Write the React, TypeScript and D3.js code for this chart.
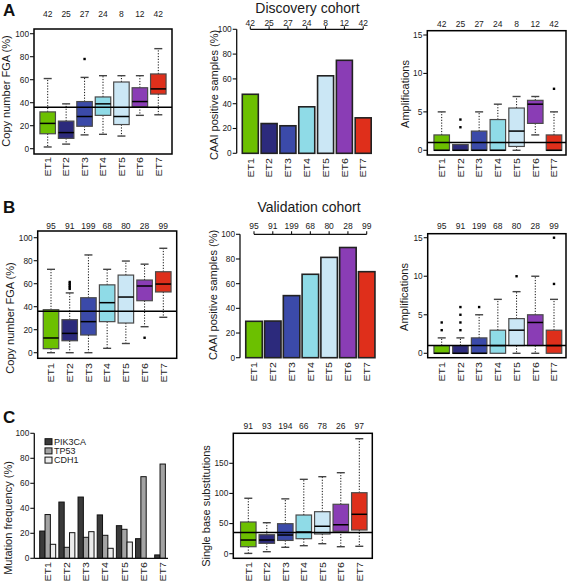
import React from "react";
import * as d3 from "d3";

const categories = ["ET1", "ET2", "ET3", "ET4", "ET5", "ET6", "ET7"];
const etColors = ["#6cc000", "#2c2a7c", "#3b4aa9", "#8fdbe7", "#cbe7f5", "#8a3db5", "#df2f1b"];

const discN = [42, 25, 27, 24, 8, 12, 42];
const valN = [95, 91, 199, 68, 80, 28, 99];
const sbsN = [91, 93, 194, 66, 78, 26, 97];

// [low whisker, Q1, median, Q3, high whisker]
const fgaDiscStats = [
  [1.5, 13, 22, 32, 61],
  [4, 9, 14, 24, 39],
  [12, 19.5, 28, 41, 62],
  [12.5, 29, 39, 45, 63.5],
  [11, 21, 28, 58, 63.5],
  [29, 36.5, 41, 53, 63.5],
  [29.5, 47.5, 52, 65, 87],
];
const fgaDiscOutliers = [[], [], [78], [], [], [], []];
const fgaRef = 36;

const caaiDisc = [47.6, 24, 22.2, 37.5, 62.5, 75, 28.6];

const ampDiscStats = [
  [0, 0, 0, 2, 5],
  [0, 0, 0, 0.75, 0.75],
  [0, 0, 0, 2.5, 5],
  [0, 0, 0, 4, 6],
  [0, 0.5, 2.5, 5.5, 7],
  [2, 3.5, 6, 6.5, 7],
  [0, 0, 0, 2, 5],
];
const ampDiscOutliers = [[], [3, 4], [], [], [], [], [8]];
const ampRef = 1;

const fgaValStats = [
  [0, 3.5, 12.8, 37.4, 72.5],
  [0, 10.4, 16.8, 28.7, 52],
  [0, 15.4, 27, 47.8, 85],
  [3.8, 27, 43.5, 59, 72.5],
  [8, 25.8, 48.4, 67.5, 79.7],
  [22.6, 45.2, 58, 63.2, 77],
  [30.8, 52.8, 59.7, 70.4, 90.8],
];
const fgaValOutliers = [[], [55.5, 57, 58.5, 60, 61.5], [], [], [], [13], []];

const caaiVal = [29.5, 29.7, 50.3, 67.6, 81.3, 89.3, 69.7];

const ampValStats = [
  [0, 0, 0, 1, 2],
  [0, 0, 0, 1, 2],
  [0, 0, 0, 2, 5],
  [0, 0, 1, 3, 7],
  [0, 1, 3, 4.5, 8],
  [0, 1, 4, 5, 10],
  [0, 0, 1, 3, 7],
];
const ampValOutliers = [[3, 4], [3, 4, 5, 6], [6], [], [10], [], [9, 15]];

const genes = ["PIK3CA", "TP53", "CDH1"];
const geneColors = ["#3a3a3a", "#a3a3a3", "#ececec"];
const pik3ca = [21.8, 45, 49, 34.7, 26.1, 15.7, 2.7];
const tp53 = [35, 8.8, 16.8, 18.4, 23.2, 65.3, 75.4];
const cdh1 = [11.2, 20.5, 21.3, 8, 13, 0, 0];

const sbsStats = [
  [0.5, 11.6, 22.7, 52.6, 92],
  [3.3, 17.2, 22.7, 31.5, 51.4],
  [10.6, 22, 31, 49.8, 91],
  [13.3, 24.9, 36, 64.2, 123.4],
  [16.6, 32.7, 45.5, 69.7, 127.8],
  [11.6, 37.2, 48, 82, 134.4],
  [12.3, 39.3, 65.4, 101.2, 190.8],
];
const sbsOutliers = [[], [], [], [], [], [], []];
const sbsRef = 35;

const FONT = "Liberation Sans, Arial, Helvetica, sans-serif";
const TXT = "#1a1a1a";

function EtLabels({ x, top }: { x: (c: string) => number; top: number }) {
  return (
    <g>
      {categories.map((c) => (
        <text
          key={c}
          transform={`translate(${x(c)},${top}) rotate(-90) scale(1.12,1)`}
          textAnchor="end"
          dominantBaseline="central"
          fontSize={9.5}
          fontFamily={FONT}
          fill={TXT}
        >
          {c}
        </text>
      ))}
    </g>
  );
}

function YTitle({ x, y, text }: { x: number; y: number; text: string }) {
  return (
    <text
      transform={`translate(${x},${y}) rotate(-90)`}
      textAnchor="middle"
      fontSize={11}
      fontFamily={FONT}
      fill={TXT}
    >
      {text}
    </text>
  );
}

function YAxis({ y, x, ticks, top, bottom }: { y: d3.ScaleLinear<number, number>; x: number; ticks: number[]; top: number; bottom: number }) {
  return (
    <g>
      <line x1={x} x2={x} y1={top} y2={bottom} stroke="#111" strokeWidth={1.3} />
      {ticks.map((t) => (
        <g key={t}>
          <line x1={x - 4} x2={x} y1={y(t)} y2={y(t)} stroke="#111" strokeWidth={1.1} />
          <text x={x - 5} y={y(t)} dy="0.35em" textAnchor="end" fontSize={8.3} fontFamily={FONT} fill={TXT}>
            {t}
          </text>
        </g>
      ))}
    </g>
  );
}

type BoxProps = {
  stats: number[][];
  outliers: number[][];
  ns: number[];
  refValue: number;
  frame: { l: number; r: number; t: number; b: number };
  yDomain: [number, number];
  yRange: [number, number];
  xRange: [number, number];
  ticks: number[];
  title: string;
  titlePos: [number, number];
  nY: number;
  labelY: number;
};

function BoxPanel(p: BoxProps) {
  const y = d3.scaleLinear().domain(p.yDomain).range(p.yRange);
  const x = d3.scalePoint<string>().domain(categories).range(p.xRange);
  const bw = 15.5;
  const cw = 8;
  const f = p.frame;
  return (
    <g>
      {categories.map((c, i) => {
        const [lo, q1, med, q3, hi] = p.stats[i];
        const cx = x(c) as number;
        return (
          <g key={c}>
            {hi > q3 && (
              <>
                <line x1={cx} x2={cx} y1={y(q3)} y2={y(hi)} stroke="#111" strokeWidth={1} strokeDasharray="1.2,1.6" />
                <line x1={cx - cw / 2} x2={cx + cw / 2} y1={y(hi)} y2={y(hi)} stroke="#444" strokeWidth={1.4} />
              </>
            )}
            {lo < q1 && (
              <>
                <line x1={cx} x2={cx} y1={y(q1)} y2={y(lo)} stroke="#111" strokeWidth={1} strokeDasharray="1.2,1.6" />
                <line x1={cx - cw / 2} x2={cx + cw / 2} y1={y(lo)} y2={y(lo)} stroke="#444" strokeWidth={1.4} />
              </>
            )}
            <rect x={cx - bw / 2} y={y(q3)} width={bw} height={Math.max(0, y(q1) - y(q3))} fill={etColors[i]} stroke="#4a4a4a" strokeWidth={1.2} />
            <line x1={cx - bw / 2} x2={cx + bw / 2} y1={y(med)} y2={y(med)} stroke="#000" strokeWidth={1.5} />
            {p.outliers[i].map((o, k) => (
              <rect key={k} x={cx - 1.2} y={y(o) - 1.2} width={2.4} height={2.4} fill="#000" />
            ))}
            <text x={cx} y={p.nY} textAnchor="middle" fontSize={8.5} fontFamily={FONT} fill={TXT}>
              {p.ns[i]}
            </text>
          </g>
        );
      })}
      <line x1={f.l} x2={f.r} y1={y(p.refValue)} y2={y(p.refValue)} stroke="#000" strokeWidth={1.5} />
      <rect x={f.l} y={f.t} width={f.r - f.l} height={f.b - f.t} fill="none" stroke="#000" strokeWidth={1.5} />
      {p.ticks.map((t) => (
        <g key={t}>
          <line x1={f.l - 4} x2={f.l} y1={y(t)} y2={y(t)} stroke="#111" strokeWidth={1.1} />
          <text x={f.l - 5} y={y(t)} dy="0.35em" textAnchor="end" fontSize={8.3} fontFamily={FONT} fill={TXT}>
            {t}
          </text>
        </g>
      ))}
      <EtLabels x={(c) => x(c) as number} top={p.labelY} />
      <YTitle x={p.titlePos[0]} y={p.titlePos[1]} text={p.title} />
    </g>
  );
}

type BarProps = {
  values: number[];
  ns: number[];
  axisX: number;
  yRange: [number, number];
  xRange: [number, number];
  barW: number;
  nY: number;
  labelY: number;
  titlePos: [number, number];
};

function BarPanel(p: BarProps) {
  const y = d3.scaleLinear().domain([0, 100]).range(p.yRange);
  const x = d3.scalePoint<string>().domain(categories).range(p.xRange);
  const bracketY = y(100);
  return (
    <g>
      {categories.map((c, i) => {
        const cx = x(c) as number;
        return (
          <g key={c}>
            <rect x={cx - p.barW / 2} y={y(p.values[i])} width={p.barW} height={y(0) - y(p.values[i])} fill={etColors[i]} stroke="#222" strokeWidth={1.6} />
            <line x1={cx} x2={cx} y1={bracketY} y2={bracketY - 3} stroke="#111" strokeWidth={1.1} />
            <text x={cx} y={p.nY} textAnchor="middle" fontSize={8.5} fontFamily={FONT} fill={TXT}>
              {p.ns[i]}
            </text>
          </g>
        );
      })}
      <line x1={p.xRange[0]} x2={p.xRange[1]} y1={bracketY} y2={bracketY} stroke="#111" strokeWidth={1.3} />
      <YAxis y={y} x={p.axisX} ticks={[0, 20, 40, 60, 80, 100]} top={y(100)} bottom={y(0)} />
      <EtLabels x={(c) => x(c) as number} top={p.labelY} />
      <YTitle x={p.titlePos[0]} y={p.titlePos[1]} text="CAAI positive samples (%)" />
    </g>
  );
}

function MutationPanel() {
  const y = d3.scaleLinear().domain([0, 100]).range([558.3, 433.3]);
  const x = d3.scalePoint<string>().domain(categories).range([47.7, 162.7]);
  const inner = d3.scaleBand<string>().domain(genes).range([-8, 8]).padding(0);
  const series = [pik3ca, tp53, cdh1];
  return (
    <g>
      {categories.map((c, i) => (
        <g key={c} transform={`translate(${x(c)},0)`}>
          {series.map((s, g) => (
            <rect
              key={g}
              x={inner(genes[g]) as number}
              y={y(s[i])}
              width={inner.bandwidth()}
              height={y(0) - y(s[i])}
              fill={geneColors[g]}
              stroke="#111"
              strokeWidth={1}
            />
          ))}
        </g>
      ))}
      <line x1={34.3} x2={168} y1={y(0)} y2={y(0)} stroke="#111" strokeWidth={1.3} />
      <YAxis y={y} x={34.3} ticks={[0, 20, 40, 60, 80, 100]} top={y(100)} bottom={y(0)} />
      {genes.map((g, k) => (
        <g key={g} transform={`translate(45,${441.7 + k * 9.2})`}>
          <rect x={0} y={-3} width={7} height={6} fill={geneColors[k]} stroke="#111" strokeWidth={1} />
          <text x={9} y={0} dy="0.35em" fontSize={9} fontFamily={FONT} fill={TXT}>
            {g}
          </text>
        </g>
      ))}
      <EtLabels x={(c) => x(c) as number} top={562} />
      <YTitle x={12} y={518} text="Mutation frequency (%)" />
    </g>
  );
}

export default function App() {
  return (
    <svg width={567} height={583} style={{ position: "absolute", left: 0, top: 0, background: "#fff" }}>
      <rect width={567} height={583} fill="#fff" />
      <text x={3} y={15.5} fontSize={17} fontWeight="bold" fontFamily={FONT} fill="#111">A</text>
      <text x={3} y={213} fontSize={17} fontWeight="bold" fontFamily={FONT} fill="#111">B</text>
      <text x={3} y={423} fontSize={17} fontWeight="bold" fontFamily={FONT} fill="#111">C</text>
      <text x={307.5} y={12.5} textAnchor="middle" fontSize={14} fontFamily={FONT} fill={TXT}>Discovery cohort</text>
      <text x={309} y={212} textAnchor="middle" fontSize={14} fontFamily={FONT} fill={TXT}>Validation cohort</text>

      <BoxPanel
        stats={fgaDiscStats}
        outliers={fgaDiscOutliers}
        ns={discN}
        refValue={fgaRef}
        frame={{ l: 34, r: 172, t: 29, b: 154 }}
        yDomain={[0, 100]}
        yRange={[148.7, 33.7]}
        xRange={[47.7, 158.3]}
        ticks={[0, 20, 40, 60, 80, 100]}
        title="Copy number FGA (%)"
        titlePos={[10, 91]}
        nY={17}
        labelY={157}
      />
      <BarPanel values={caaiDisc} ns={discN} axisX={236.7} yRange={[153.3, 29.3]} xRange={[250.3, 363.2]} barW={16} nY={26} labelY={158} titlePos={[218, 95]} />
      <BoxPanel
        stats={ampDiscStats}
        outliers={ampDiscOutliers}
        ns={discN}
        refValue={ampRef}
        frame={{ l: 427.3, r: 566, t: 30.7, b: 155 }}
        yDomain={[0, 15]}
        yRange={[150.3, 35]}
        xRange={[441.7, 554]}
        ticks={[0, 5, 10, 15]}
        title="Amplifications"
        titlePos={[409, 94]}
        nY={27}
        labelY={158}
      />

      <BoxPanel
        stats={fgaValStats}
        outliers={fgaValOutliers}
        ns={valN}
        refValue={fgaRef}
        frame={{ l: 37.7, r: 176.7, t: 231, b: 358.3 }}
        yDomain={[0, 100]}
        yRange={[352.7, 237.7]}
        xRange={[51, 163.3]}
        ticks={[0, 20, 40, 60, 80, 100]}
        title="Copy number FGA (%)"
        titlePos={[14, 318]}
        nY={228.5}
        labelY={363}
      />
      <BarPanel values={caaiVal} ns={valN} axisX={240} yRange={[357.7, 234.3]} xRange={[254, 366.7]} barW={16.5} nY={229} labelY={362} titlePos={[217, 295]} />
      <BoxPanel
        stats={ampValStats}
        outliers={ampValOutliers}
        ns={valN}
        refValue={ampRef}
        frame={{ l: 427.7, r: 566, t: 233.7, b: 357.7 }}
        yDomain={[0, 15]}
        yRange={[353.3, 237.7]}
        xRange={[441.7, 554]}
        ticks={[0, 5, 10, 15]}
        title="Amplifications"
        titlePos={[408, 297]}
        nY={228.5}
        labelY={362}
      />

      <MutationPanel />
      <BoxPanel
        stats={sbsStats}
        outliers={sbsOutliers}
        ns={sbsN}
        refValue={sbsRef}
        frame={{ l: 233.3, r: 372.3, t: 433.3, b: 558.3 }}
        yDomain={[0, 150]}
        yRange={[553.7, 463.3]}
        xRange={[248.3, 359.3]}
        ticks={[0, 50, 100, 150]}
        title="Single base substitutions"
        titlePos={[210, 506]}
        nY={428.5}
        labelY={562}
      />
    </svg>
  );
}
